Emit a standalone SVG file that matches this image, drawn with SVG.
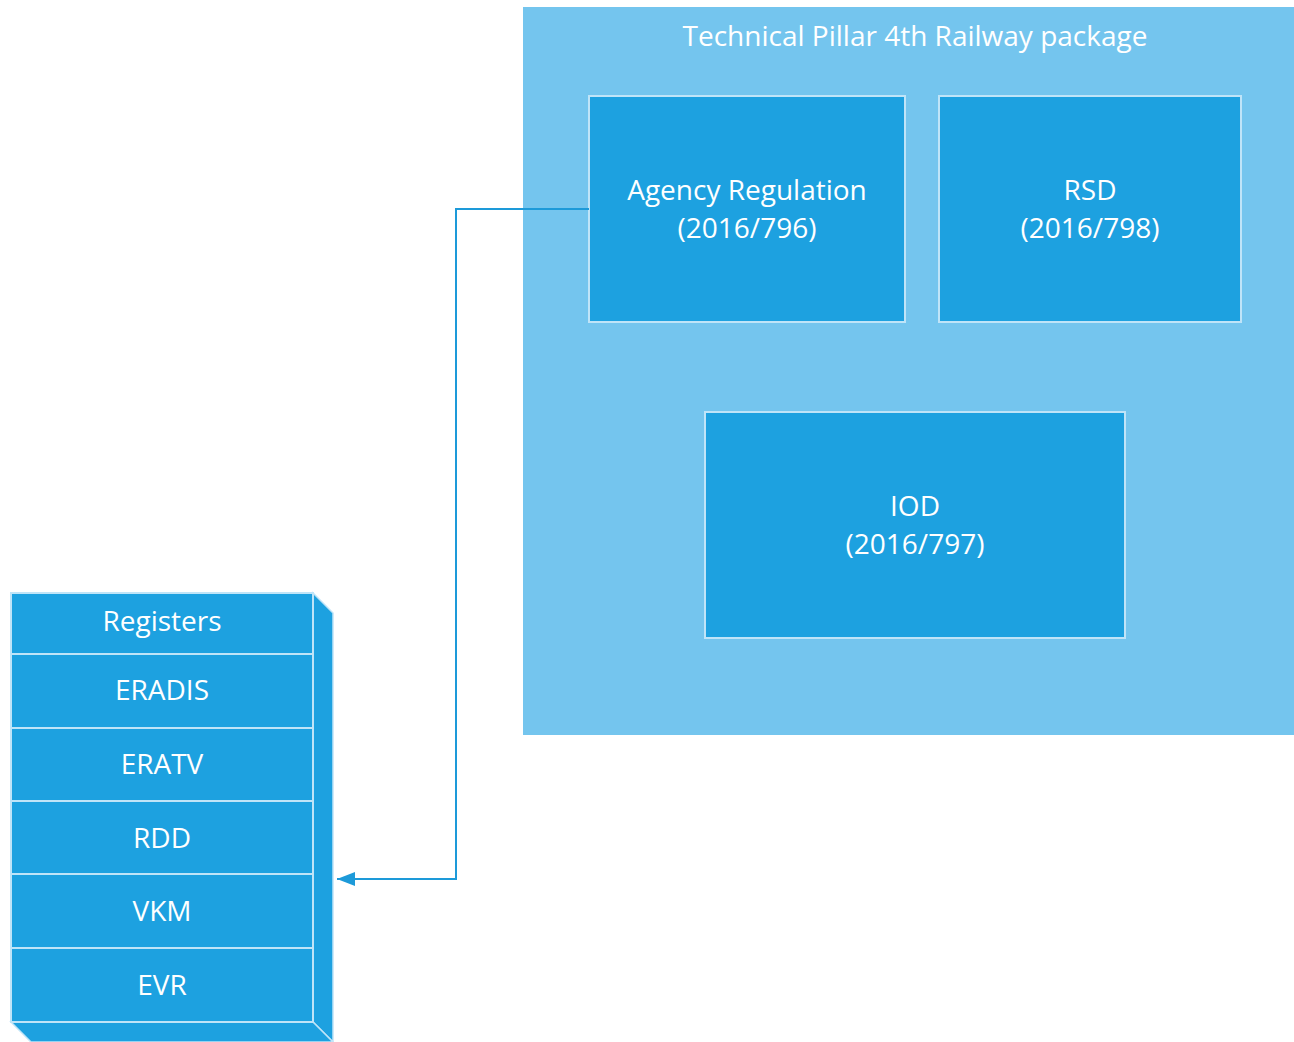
<svg xmlns="http://www.w3.org/2000/svg" width="1294" height="1042" viewBox="0 0 1294 1042">
<style>
text{font-family:"Open Sans","Noto Sans","Liberation Sans",sans-serif;fill:#ffffff;text-anchor:middle;font-size:28px}
.box{fill:#1DA1E0;stroke:#BFE4F8;stroke-width:2}
.row{fill:#1DA1E0;stroke:#BFE4F8;stroke-width:2}
.side{fill:#1DA1E0;stroke:#BFE4F8;stroke-width:1.5}
.conn{fill:none;stroke:#1D9AD9;stroke-width:2}
</style>
<defs>
<marker id="arr" viewBox="0 0 18 14" refX="18" refY="7" markerWidth="18" markerHeight="14" markerUnits="userSpaceOnUse" orient="auto">
<path d="M0,0 L18,7 L0,14 Z" fill="#1D9AD9"/>
</marker>
</defs>
<g id="container">
<rect x="523" y="7" width="771" height="728" fill="#74C5EE"/>
<text x="915" y="46">Technical Pillar 4th Railway package</text>
</g>
<g id="agency">
<rect class="box" x="589" y="96" width="316" height="226"/>
<text x="747" y="200">Agency Regulation</text>
<text x="747" y="238">(2016/796)</text>
</g>
<g id="rsd">
<rect class="box" x="939" y="96" width="302" height="226"/>
<text x="1090" y="200">RSD</text>
<text x="1090" y="238">(2016/798)</text>
</g>
<g id="iod">
<rect class="box" x="705" y="412" width="420" height="226"/>
<text x="915" y="516">IOD</text>
<text x="915" y="554">(2016/797)</text>
</g>
<g id="registers">
<path class="side" d="M313,593 L333,613 L333,1042 L313,1022 Z"/>
<path class="side" d="M11,1022 L313,1022 L333,1042 L31,1042 Z"/>
<rect class="row" x="11" y="593" width="302" height="61"/>
<rect class="row" x="11" y="654" width="302" height="74"/>
<rect class="row" x="11" y="728" width="302" height="73"/>
<rect class="row" x="11" y="801" width="302" height="73"/>
<rect class="row" x="11" y="874" width="302" height="74"/>
<rect class="row" x="11" y="948" width="302" height="74"/>
<text x="162" y="631">Registers</text>
<text x="162" y="700">ERADIS</text>
<text x="162" y="774">ERATV</text>
<text x="162" y="848">RDD</text>
<text x="162" y="921">VKM</text>
<text x="162" y="995">EVR</text>
</g>
<g id="connectors">
<path class="conn" d="M589,209 L456,209 L456,879 L337,879" marker-end="url(#arr)"/>
</g>
</svg>
